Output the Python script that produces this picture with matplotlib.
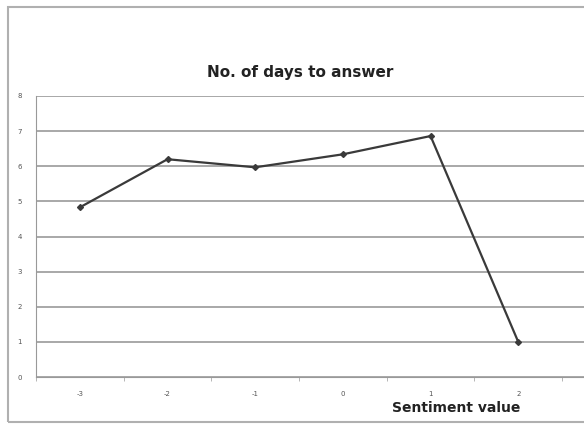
import matplotlib.pyplot as plt
from matplotlib.patches import Rectangle

# sentiment categories and average days to answer
sentiment = ['-3', '-2', '-1', '0', '1', '2']
days = [4.83, 6.2, 5.97, 6.34, 6.86, 1.0]
y_ticks = [0, 1, 2, 3, 4, 5, 6, 7, 8]

fig = plt.figure(figsize=(5.84, 4.24), dpi=100)
fig.patch.set_facecolor('white')

# outer chart frame
fig.add_artist(Rectangle((8 / 584, 2 / 424), 1.0, 415 / 424, transform=fig.transFigure,
                         fill=False, edgecolor='#b0b0b0', linewidth=1.5))

ax = fig.add_axes([36 / 584, 47 / 424, 548 / 584, 281 / 424])
x = list(range(len(sentiment)))
ax.plot(x, days, color='#3a3a3a', linewidth=1.6, marker='D', markersize=3,
        markerfacecolor='#3a3a3a', markeredgecolor='#3a3a3a')

ax.set_xlim(-0.5, 5.75)
ax.set_ylim(0, 8)
ax.set_yticks(y_ticks)
ax.set_yticklabels([str(v) for v in y_ticks], fontsize=5, color='#555555')
ax.set_xticks(x)
ax.set_xticklabels(sentiment, fontsize=5, color='#555555')
ax.set_xticks([i + 0.5 for i in range(-1, 6)], minor=True)
ax.tick_params(axis='both', which='major', length=0, pad=10)
ax.tick_params(axis='x', which='minor', length=3, color='#aaaaaa')
ax.yaxis.grid(True, color='#999999', linewidth=1.2)
ax.set_axisbelow(True)

for side in ['top', 'right']:
    ax.spines[side].set_visible(False)
ax.spines['left'].set_color('#999999')
ax.spines['bottom'].set_color('#999999')

fig.text(300 / 584, 1 - 73 / 424, 'No. of days to answer', ha='center', va='center',
         fontsize=11, fontweight='bold', color='#222222')
fig.text(456 / 584, 1 - 408 / 424, 'Sentiment value', ha='center', va='center',
         fontsize=10, fontweight='bold', color='#222222')

fig.savefig('out.png', dpi=100)
